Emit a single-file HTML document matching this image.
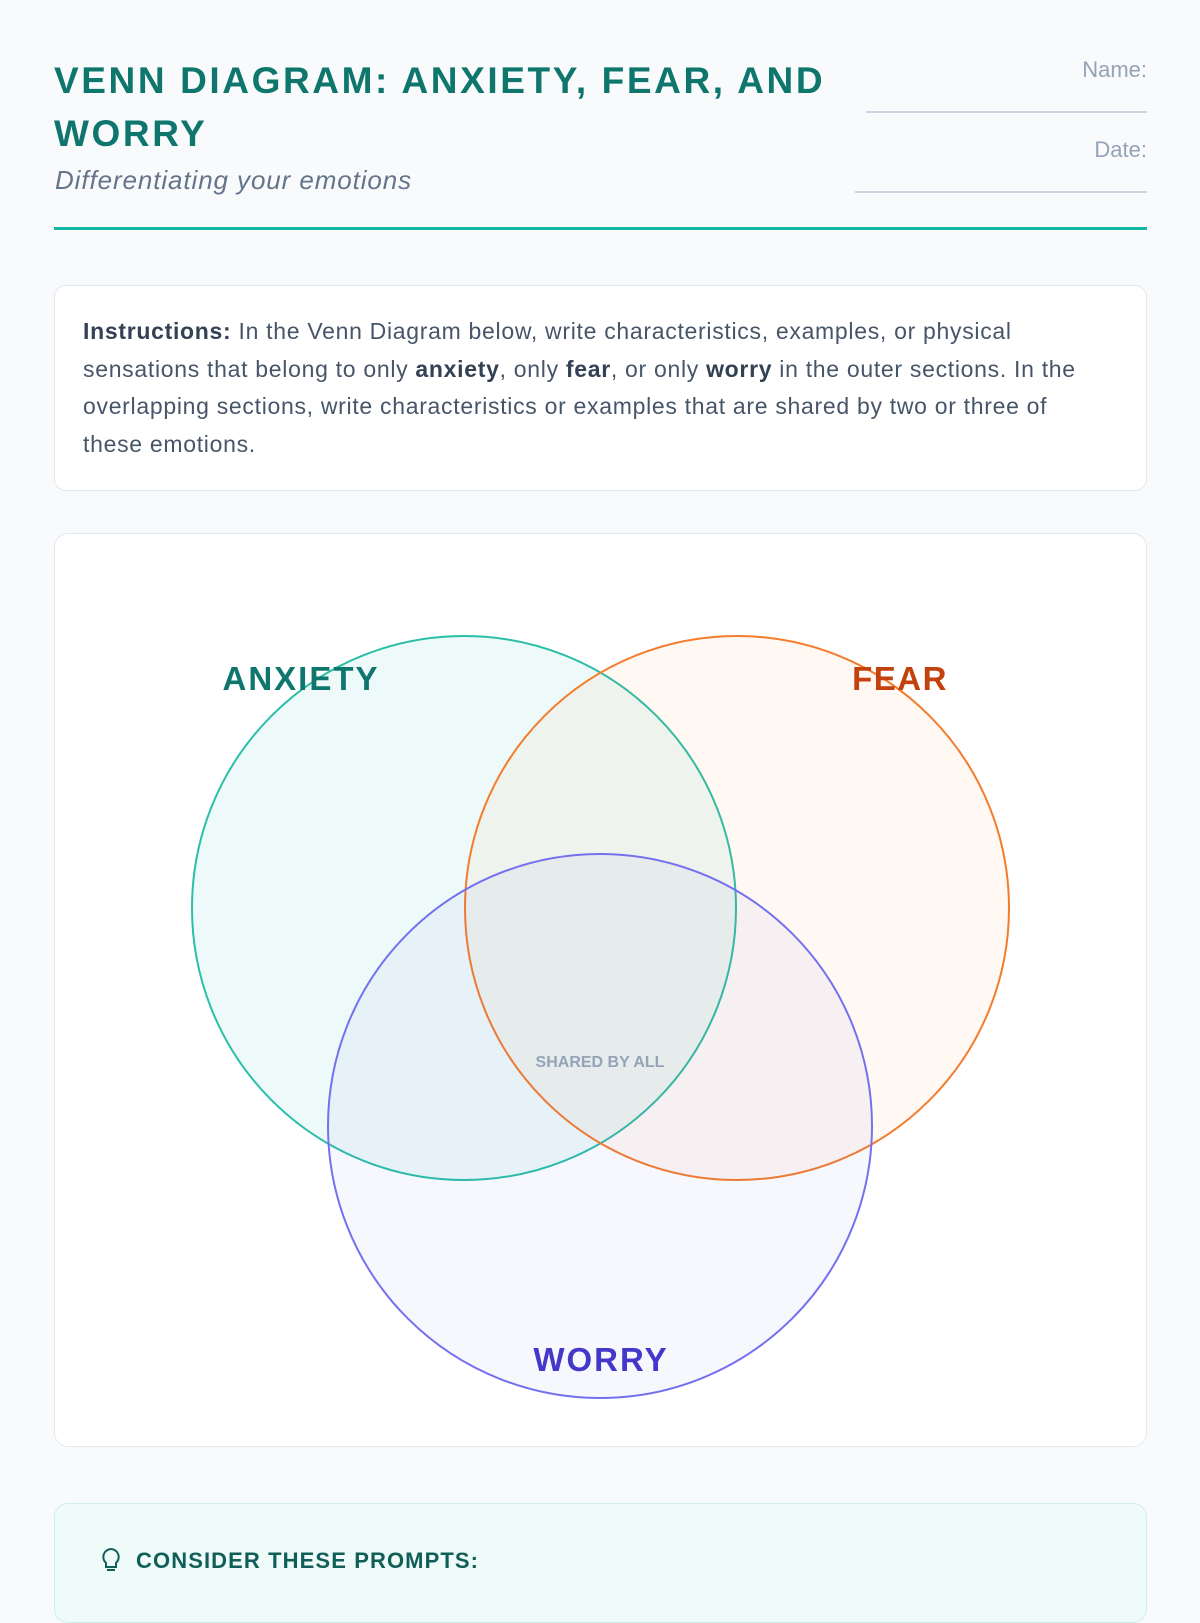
<!DOCTYPE html>
<html><head><meta charset="utf-8"><style>
*{margin:0;padding:0;box-sizing:border-box}
body{width:1200px;height:1600px;background:#f8fafc;font-family:"Liberation Sans",sans-serif;position:relative;overflow:hidden}
.title{position:absolute;left:54px;top:54px;width:860px;font-size:37px;font-weight:bold;color:#0f766e;line-height:53px;letter-spacing:2.6px}
.sub{position:absolute;left:55px;top:165px;font-size:26px;font-style:italic;color:#64748b;letter-spacing:0.9px}
.lbl{position:absolute;right:53px;font-size:22px;color:#94a3b8}
.ln{position:absolute;right:53px;height:2px;background:#cbd5e1}
.rule{position:absolute;left:54px;top:227px;width:1093px;height:3px;background:#14b8a6}
.ins{position:absolute;left:54px;top:285px;width:1093px;height:206px;background:#fff;border:1px solid #e2e8f0;border-radius:12px;padding:27px 50px 27px 28px;font-size:23px;line-height:37.5px;color:#475569;letter-spacing:0.7px}
.ins b{color:#334155}
.venn{position:absolute;left:54px;top:533px;width:1093px;height:914px;background:#fff;border:1px solid #e2e8f0;border-radius:14px}
.pr{position:absolute;left:54px;top:1503px;width:1093px;height:120px;background:#effbf8;border:1px solid #ccf0e8;border-radius:14px}
</style></head><body>
<div class="title">VENN DIAGRAM: ANXIETY, FEAR, AND WORRY</div>
<div class="sub">Differentiating your emotions</div>
<div class="lbl" style="top:57px">Name:</div>
<div class="ln" style="top:111px;width:281px"></div>
<div class="lbl" style="top:137px">Date:</div>
<div class="ln" style="top:191px;width:292px"></div>
<div class="rule"></div>
<div class="ins"><b>Instructions:</b> In the Venn Diagram below, write characteristics, examples, or physical sensations that belong to only <b>anxiety</b>, only <b>fear</b>, or only <b>worry</b> in the outer sections. In the overlapping sections, write characteristics or examples that are shared by two or three of these emotions.</div>
<div class="venn"></div>
<svg width="1200" height="1600" style="position:absolute;left:0;top:0">
<circle cx="464" cy="908" r="272" fill="#14b8a6" fill-opacity="0.07" stroke="#2bbfa8" stroke-width="2"/>
<circle cx="737" cy="908" r="272" fill="#f97316" fill-opacity="0.05" stroke="#f47c2c" stroke-width="2"/>
<circle cx="600" cy="1126" r="272" fill="#6366f1" fill-opacity="0.05" stroke="#7471ef" stroke-width="2"/>
<g font-family="Liberation Sans,sans-serif" font-weight="bold" text-anchor="middle">
<text x="301" y="690" font-size="33" letter-spacing="2" fill="#0f766e">ANXIETY</text>
<text x="900" y="690" font-size="33" letter-spacing="1.5" fill="#c2410c">FEAR</text>
<text x="601" y="1371" font-size="33" letter-spacing="2" fill="#4338ca">WORRY</text>
<text x="600" y="1067" font-size="16" fill="#94a3b8">SHARED BY ALL</text>
</g>
</svg>
<div class="pr"></div>
<svg width="30" height="30" style="position:absolute;left:96px;top:1546px" viewBox="0 0 30 30"><path d="M15 3a8 8 0 0 0-5 14v4h10v-4a8 8 0 0 0-5-14zM11 24h8" fill="none" stroke="#115e59" stroke-width="2"/></svg>
<div style="position:absolute;left:136px;top:1548px;font-size:22px;font-weight:bold;color:#115e59;letter-spacing:1.1px">CONSIDER THESE PROMPTS:</div>
</body></html>
